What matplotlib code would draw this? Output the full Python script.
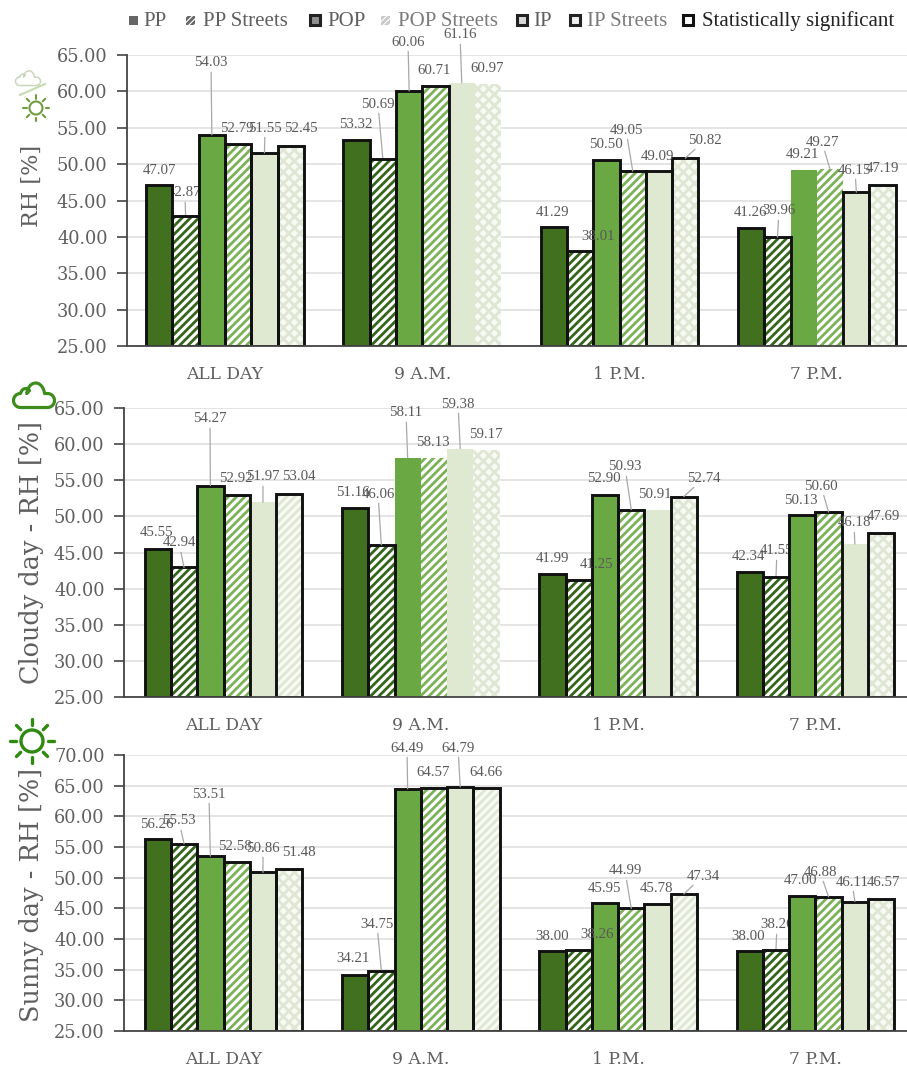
import numpy as np
import matplotlib
matplotlib.use("Agg")
import matplotlib.pyplot as plt
from matplotlib.patches import Rectangle, Circle, Polygon

# ---------- data ----------
periods = ["ALL DAY", "9 A.M.", "1 P.M.", "7 P.M."]
series_names = ["PP", "PP Streets", "POP", "POP Streets", "IP", "IP Streets"]

overall_pp = [47.07, 53.32, 41.29, 41.26]
overall_pp_streets = [42.87, 50.69, 38.01, 39.96]
overall_pop = [54.03, 60.06, 50.50, 49.21]
overall_pop_streets = [52.79, 60.71, 49.05, 49.27]
overall_ip = [51.55, 61.16, 49.09, 46.15]
overall_ip_streets = [52.45, 60.97, 50.82, 47.19]

cloudy_pp = [45.55, 51.16, 41.99, 42.34]
cloudy_pp_streets = [42.94, 46.06, 41.25, 41.55]
cloudy_pop = [54.27, 58.11, 52.90, 50.13]
cloudy_pop_streets = [52.92, 58.13, 50.93, 50.60]
cloudy_ip = [51.97, 59.38, 50.91, 46.18]
cloudy_ip_streets = [53.04, 59.17, 52.74, 47.69]

sunny_pp = [56.26, 34.21, 38.00, 38.00]
sunny_pp_streets = [55.53, 34.75, 38.26, 38.26]
sunny_pop = [53.51, 64.49, 45.95, 47.00]
sunny_pop_streets = [52.58, 64.57, 44.99, 46.88]
sunny_ip = [50.86, 64.79, 45.78, 46.11]
sunny_ip_streets = [51.48, 64.66, 47.34, 46.57]

# statistically significant flags: one row per period, one column per series
overall_sig = [[1, 1, 1, 1, 1, 1], [1, 1, 1, 1, 0, 0], [1, 1, 1, 1, 1, 1], [1, 1, 0, 0, 1, 1]]
cloudy_sig = [[1, 1, 1, 1, 0, 1], [1, 1, 0, 0, 0, 0], [1, 1, 1, 1, 0, 1], [1, 1, 1, 1, 0, 1]]
sunny_sig = [[1, 1, 1, 1, 1, 1], [1, 1, 1, 1, 1, 1], [1, 1, 1, 1, 1, 1], [1, 1, 1, 1, 1, 1]]

# ---------- layout (pixels in the 907x1070 figure) ----------
W, H = 907, 1070
overall_labels_px = [
    [(159, 170), (185, 193), (211, 63), (237, 128), (265, 128), (301, 128)],
    [(356, 125), (378, 104), (408, 42), (434, 70), (460, 35), (487, 69)],
    [(553, 213), (598, 237), (606, 145), (626, 130), (657, 156), (705, 140)],
    [(750, 213), (779, 211), (803, 154), (822, 142), (855, 170), (882, 169)],
]
cloudy_labels_px = [
    [(157, 533), (179, 543), (210, 419), (236, 479), (263, 477), (299, 477)],
    [(353, 493), (378, 494), (406, 413), (433, 442), (458, 404), (486, 434)],
    [(552, 559), (597, 564), (604, 479), (625, 467), (655, 494), (704, 478)],
    [(748, 557), (777, 551), (801, 500), (821, 486), (854, 523), (883, 517)],
]
sunny_labels_px = [
    [(157, 824), (179, 821), (209, 794), (235, 847), (263, 848), (299, 852)],
    [(353, 959), (377, 924), (407, 748), (433, 773), (458, 748), (486, 773)],
    [(552, 937), (597, 935), (604, 888), (625, 871), (656, 889), (703, 876)],
    [(748, 937), (777, 925), (801, 881), (820, 872), (852, 882), (883, 883)],
]
leaders = {(0, 1), (0, 2), (0, 4), (1, 1), (1, 2), (1, 4), (2, 3), (2, 5), (3, 1), (3, 3), (3, 4)}

panels = [
    dict(values=[overall_pp, overall_pp_streets, overall_pop, overall_pop_streets, overall_ip, overall_ip_streets],
         sig=overall_sig, labels=overall_labels_px, ylabel="RH [%]", ytop=65, top=55, bottom=346, left=127,
         center=225.0, ylabel_y=186, behind={(0, 1), (1, 1)},
         ip_hatch=["xxx", "xxx", "xxx", "xxx"]),
    dict(values=[cloudy_pp, cloudy_pp_streets, cloudy_pop, cloudy_pop_streets, cloudy_ip, cloudy_ip_streets],
         sig=cloudy_sig, labels=cloudy_labels_px, ylabel="Cloudy day - RH [%]", ytop=65, top=408, bottom=697, left=124,
         center=223.5, ylabel_y=553, behind={(3, 1)},
         ip_hatch=["////", "xxx", "xxx", "xxx"]),
    dict(values=[sunny_pp, sunny_pp_streets, sunny_pop, sunny_pop_streets, sunny_ip, sunny_ip_streets],
         sig=sunny_sig, labels=sunny_labels_px, ylabel="Sunny day - RH [%]", ytop=70, top=755, bottom=1031, left=124,
         center=223.5, ylabel_y=895, behind={(1, 1), (3, 1)},
         ip_hatch=["xxx", "////", "////", "xxx"]),
]

PERIOD_PX = 197.3
BAR = 26.3 / PERIOD_PX
fills = ["#41701f", "#ffffff", "#6aa843", "#ffffff", "#dfe9d2", "#f8faf4"]
hatch_cols = [None, "#33661a", None, "#7cb257", None, "#dfe6d4"]
GREY = "#5f5f5f"

plt.rcParams["hatch.linewidth"] = 2.0
plt.rcParams["font.family"] = ["DejaVu Serif"]

fig = plt.figure(figsize=(W / 100, H / 100), dpi=100, facecolor="white")

for p in panels:
    ax = fig.add_axes([p["left"] / W, 1 - p["bottom"] / H, (W - p["left"]) / W, (p["bottom"] - p["top"]) / H])
    ax.set_xlim((p["left"] - p["center"]) / PERIOD_PX, (W - p["center"]) / PERIOD_PX)
    ax.set_ylim(25, p["ytop"])
    ax.set_yticks(np.arange(25, p["ytop"] + 1, 5))
    ax.set_yticklabels([f"{t:.2f}" for t in np.arange(25, p["ytop"] + 1, 5)])
    ax.set_xticks(range(len(periods)))
    ax.set_xticklabels(periods, fontsize=12.3, color=GREY)
    ax.tick_params(axis="x", length=0, pad=14.5)
    ax.tick_params(axis="y", length=7, width=1.2, color="#444444", labelsize=12.8, labelcolor=GREY, pad=7)
    ax.grid(axis="y", color="#e4e4e4", lw=1.4, zorder=0)
    ax.set_axisbelow(True)
    for s in ["top", "right"]:
        ax.spines[s].set_visible(False)
    for s in ["left", "bottom"]:
        ax.spines[s].set_color("#444444")
        ax.spines[s].set_linewidth(1.3)
        ax.spines[s].set_zorder(6)
    ax.set_ylabel(p["ylabel"], fontsize=18.4 if len(p["ylabel"]) > 8 else 16, color=GREY, va="center", ha="center")
    ax.yaxis.set_label_coords((32 - p["left"]) / (W - p["left"]),
                              (p["bottom"] - p["ylabel_y"]) / (p["bottom"] - p["top"]))

    for si, vals in enumerate(p["values"]):
        for gi, v in enumerate(vals):
            x = gi + (si - 2.5) * BAR
            hatch = None
            if hatch_cols[si]:
                hatch = p["ip_hatch"][gi] if si == 5 else "////"
            ax.bar(x, v - 25, BAR, bottom=25, color=fills[si], edgecolor=hatch_cols[si] or fills[si],
                   linewidth=0, hatch=hatch, zorder=3)
            if p["sig"][gi][si]:
                ax.bar(x, v - 25, BAR, bottom=25, fill=False, edgecolor="#111111", linewidth=2.1, zorder=4)
            lx, ly = p["labels"][gi][si]
            arrow = dict(arrowstyle="-", color="#a8a8a8", lw=0.9, shrinkA=0, shrinkB=0) if (gi, si) in leaders else None
            ax.annotate(f"{v:.2f}", xy=(x, v), xycoords="data", xytext=(lx, H - ly), textcoords="figure pixels",
                        ha="center", va="center", fontsize=10.7, family="Liberation Serif", color="#595959",
                        arrowprops=arrow, zorder=2.5 if (gi, si) in p["behind"] else 5, annotation_clip=False)

# ---------- overlay: legend and weather icons, in pixel coordinates ----------
ov = fig.add_axes([0, 0, 1, 1], zorder=10)
ov.set_xlim(0, W)
ov.set_ylim(H, 0)
ov.axis("off")


def cloud(cx, cy, w, h, color, lw):
    t1 = np.linspace(np.pi * 0.5, np.pi * 1.5, 16)
    t2 = np.linspace(np.pi * 1.1, np.pi * 1.75, 14)
    t3 = np.linspace(np.pi * 1.05, np.pi * 1.95, 16)
    t4 = np.linspace(-np.pi * 0.5, np.pi * 0.5, 16)
    xs = np.r_[cx - w * .33 + w * .17 * np.cos(t1), cx - w * .20 + w * .13 * np.cos(t2),
               cx + w * .04 + w * .22 * np.cos(t3), cx + w * .33 + w * .17 * np.cos(t4)]
    ys = np.r_[cy + h * .22 + h * .28 * np.sin(t1), cy + h * .0 + h * .26 * np.sin(t2),
               cy + h * .02 + h * .5 * np.sin(t3), cy + h * .22 + h * .28 * np.sin(t4)]
    ov.add_patch(Polygon(np.c_[xs, ys], closed=True, fill=False, edgecolor=color, lw=lw, joinstyle="round"))


def sun(cx, cy, r, r0, r1, color, lw):
    ov.add_patch(Circle((cx, cy), r, fill=False, edgecolor=color, lw=lw))
    for a in np.arange(8) * np.pi / 4:
        ov.plot([cx + r0 * np.cos(a), cx + r1 * np.cos(a)], [cy + r0 * np.sin(a), cy + r1 * np.sin(a)],
                color=color, lw=lw, solid_capstyle="round")


cloud(28, 78, 25, 15, "#c9d6bd", 1.1)
ov.plot([20, 45], [95, 84], color="#c5dcae", lw=1.5)
sun(36, 108, 6.5, 9.5, 13, "#6f9c3f", 1.5)
cloud(34, 395, 41, 25, "#3e8c1c", 2.3)
sun(32, 741, 11, 16, 22, "#2f8a10", 2.4)

legend_y = 20
legend_items = [
    (133, 143, "PP", "#666666", None, None, "#5f5f5f"),
    (190, 203, "PP Streets", "#ffffff", "#666666", None, "#5f5f5f"),
    (315, 327, "POP", "#909090", None, "#222222", "#5f5f5f"),
    (385, 398, "POP Streets", "#ffffff", "#c8c8c8", None, "#7a7a7a"),
    (522, 533, "IP", "#d8d8d8", None, "#222222", "#5f5f5f"),
    (575, 587, "IP Streets", "#eeeeee", None, "#222222", "#7a7a7a"),
    (688, 702, "Statistically significant", "#ffffff", None, "#111111", "#222222"),
]
for ix, tx, name, face, hatch_col, edge, tcol in legend_items:
    size = 10 if edge else 9
    ov.add_patch(Rectangle((ix - size / 2, legend_y - size / 2), size, size, facecolor=face,
                           edgecolor=hatch_col or edge or face, hatch="//////" if hatch_col else None,
                           lw=2.2 if edge else 0))
    ov.text(tx, legend_y + 1, name, ha="left", va="center", color=tcol, family="Liberation Serif", fontsize=15)

fig.savefig("out.png", dpi=100, facecolor="white")
